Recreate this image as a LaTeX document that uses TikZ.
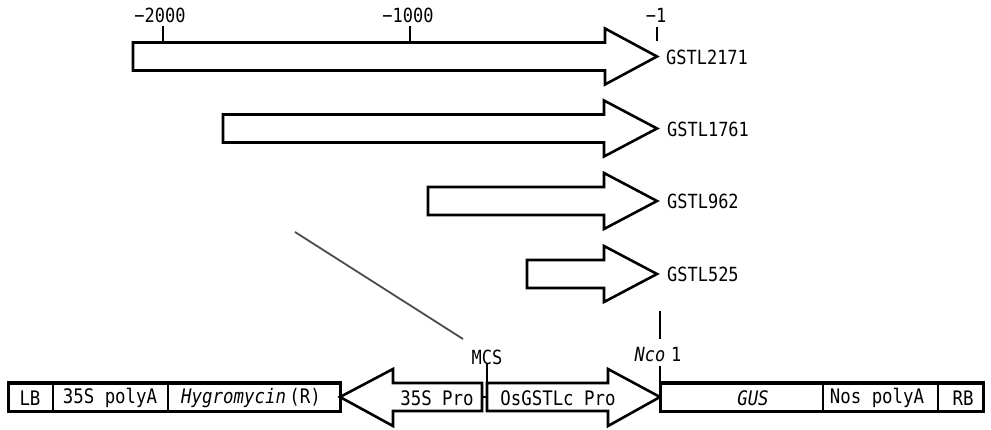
\documentclass[tikz,border=0pt]{standalone}
\usepackage{fontspec}
\setmainfont[FakeStretch=0.87]{DejaVu Sans Mono}
\begin{document}
\begin{tikzpicture}[x=1pt,y=-1pt,
  arr/.style={draw=black,line width=2.6pt,fill=white,line join=miter},
  seg/.style={draw=black,line width=2pt,fill=white},
  frame/.style={draw=black,line width=3pt},
  tickline/.style={draw=black,line width=1.6pt},
  toplbl/.style={font=\fontsize{19.5}{19.5}\selectfont,inner sep=0pt,text=black},
  boxlbl/.style={font=\fontsize{20}{20}\selectfont,inner sep=0pt,text=black},
  guide/.style={draw=black!70,line width=1.8pt}]
\useasboundingbox (0,0) rectangle (991,430);
% scale numbers
\node[toplbl] (n2000) at (160,15) {−2000};
\node[toplbl] (n1000) at (408,15) {−1000};
\node[toplbl] (n1) at (656,15) {−1};
\draw[tickline] (163,26) -- (163,43);
\draw[tickline] (410,26) -- (410,43);
\draw[tickline] (657,27) -- (657,41);
% promoter fragments
\draw[arr] (133,42.5) -- (605,42.5) -- (605,28.5) -- (657,56.5) -- (605,84.5) -- (605,70.5) -- (133,70.5) -- cycle;
\draw[arr] (223,114.5) -- (604,114.5) -- (604,100.5) -- (657,128.5) -- (604,156.5) -- (604,142.5) -- (223,142.5) -- cycle;
\draw[arr] (428,187) -- (604,187) -- (604,173) -- (657,201) -- (604,229) -- (604,215) -- (428,215) -- cycle;
\draw[arr] (527,260) -- (604,260) -- (604,246) -- (657,274) -- (604,302) -- (604,288) -- (527,288) -- cycle;
\node[toplbl,anchor=west] (g2171) at (666,57) {GSTL2171};
\node[toplbl,anchor=west] (g1761) at (667,129) {GSTL1761};
\node[toplbl,anchor=west] (g962) at (667,201) {GSTL962};
\node[toplbl,anchor=west] (g525) at (667,274) {GSTL525};
% guide line
\coordinate (ga) at (295,232);
\coordinate (gb) at (463,339);
\draw[guide] (ga) -- (gb);
% vector map
\draw[seg] (8,383) rectangle (53,411);
\draw[seg] (53,383) rectangle (168,411);
\draw[seg] (168,383) rectangle (340,411);
\draw[frame] (8,383) rectangle (340,411);
\draw[arr] (482,383) -- (393,383) -- (393,369) -- (340,397) -- (393,426) -- (393,411) -- (482,411) -- cycle;
\draw[line width=1.6pt] (482,397) -- (487,397);
\draw[arr] (487,383) -- (608,383) -- (608,369) -- (660,397) -- (608,426) -- (608,411) -- (487,411) -- cycle;
\draw[seg] (660,383) rectangle (823,411);
\draw[seg] (823,383) rectangle (938,411);
\draw[seg] (938,383) rectangle (983,411);
\draw[frame] (660,383) rectangle (983,411);
\node[boxlbl] (lb) at (30,398) {LB};
\node[boxlbl] (polyA) at (110,398) {35S polyA};
\node[boxlbl] (hyg) at (251,398) {\textit{Hygromycin}\,(R)};
\node[boxlbl] (p35) at (437,398) {35S Pro};
\node[boxlbl] (gstl) at (558,398) {OsGSTLc Pro};
\node[boxlbl] (gus) at (753,398) {\textit{GUS}};
\node[boxlbl] (nos) at (877,398) {Nos polyA};
\node[boxlbl] (rb) at (963,398) {RB};
% sites
\node[toplbl] (mcs) at (487,357) {MCS};
\draw[tickline] (487,364) -- (487,383);
\node[toplbl] (nco) at (658,355) {\textit{Nco}\hspace{6pt}1};
\draw[tickline] (660,311) -- (660,339);
\draw[tickline] (660,366) -- (660,383);
\end{tikzpicture}
\end{document}
